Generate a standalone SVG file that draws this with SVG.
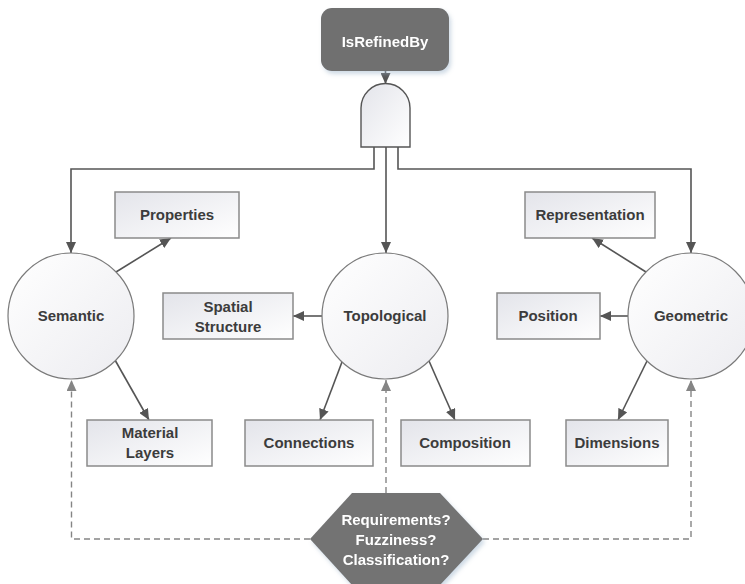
<svg xmlns="http://www.w3.org/2000/svg" width="745" height="584" viewBox="0 0 745 584">
  <defs>
    <linearGradient id="boxFill" x1="0" y1="0" x2="1" y2="1">
      <stop offset="0" stop-color="#e3e4ea"/>
      <stop offset="1" stop-color="#ffffff"/>
    </linearGradient>
    <linearGradient id="circleFill" x1="0" y1="0" x2="1" y2="1">
      <stop offset="0" stop-color="#ffffff"/>
      <stop offset="1" stop-color="#ececf0"/>
    </linearGradient>
    <filter id="softShadow" x="-20%" y="-20%" width="150%" height="150%">
      <feGaussianBlur in="SourceAlpha" stdDeviation="2"/>
      <feOffset dx="2" dy="3" result="blur"/>
      <feFlood flood-color="#9fb6cc" flood-opacity="0.5"/>
      <feComposite in2="blur" operator="in"/>
      <feMerge>
        <feMergeNode/>
        <feMergeNode in="SourceGraphic"/>
      </feMerge>
    </filter>
    <marker id="arrow" markerUnits="userSpaceOnUse" markerWidth="12" markerHeight="10" refX="11" refY="5" orient="auto">
      <path d="M0,0 L11,5 L0,10 z" fill="#555555"/>
    </marker>
    <marker id="arrowLight" markerUnits="userSpaceOnUse" markerWidth="12" markerHeight="10" refX="11" refY="5" orient="auto">
      <path d="M0,0 L11,5 L0,10 z" fill="#858585"/>
    </marker>
  </defs>
  <style>
    .box { fill: url(#boxFill); stroke: #8a8a8a; stroke-width: 1.5; }
    .circle { fill: url(#circleFill); stroke: #7a7a7a; stroke-width: 1.2; }
    .label { font-family: "Liberation Sans", Arial, sans-serif; font-weight: bold; font-size: 15px; fill: #3c3c3c; text-anchor: middle; }
    .light { fill: #ffffff; }
    .link { fill: none; stroke: #555555; stroke-width: 1.6; marker-end: url(#arrow); }
    .dashedArrow { fill: none; stroke: #858585; stroke-width: 1.4; stroke-dasharray: 6 4; marker-end: url(#arrowLight); }
    .dark { fill: #6f6f6f; }
  </style>

  <rect width="745" height="584" fill="#ffffff"/>

  <!-- connectors -->
  <g id="connectors">
    <!-- IsRefinedBy into the AND gate -->
    <line class="link" x1="385.5" y1="71" x2="385.5" y2="84"/>
    <!-- gate outputs to the three aspects -->
    <path class="link" d="M374,147 V169 H71 V253"/>
    <path class="link" d="M386,147 V253"/>
    <path class="link" d="M398,147 V169 H691 V253"/>
    <!-- Semantic -->
    <line class="link" x1="116" y1="272" x2="171" y2="238"/>
    <line class="link" x1="115" y1="360" x2="149" y2="420"/>
    <!-- Topological -->
    <line class="link" x1="323" y1="316" x2="293" y2="316"/>
    <line class="link" x1="342" y1="362" x2="320" y2="420"/>
    <line class="link" x1="429" y1="361" x2="455" y2="420"/>
    <!-- Geometric -->
    <line class="link" x1="646" y1="272" x2="592" y2="238"/>
    <line class="link" x1="628" y1="316" x2="600" y2="316"/>
    <line class="link" x1="647" y1="361" x2="618" y2="420"/>
    <!-- open questions feeding back -->
    <path class="dashedArrow" d="M310,539 H71.5 V380"/>
    <path class="dashedArrow" d="M386,493 V380"/>
    <path class="dashedArrow" d="M483,539 H691 V380"/>
  </g>

  <g id="isRefinedBy" filter="url(#softShadow)">
    <rect class="dark" x="321" y="8" width="128" height="63" rx="11"/>
    <text class="label light" x="385" y="47">IsRefinedBy</text>
  </g>

  <g id="andGate">
    <path d="M361,147 V108 A24.5,24.5 0 0 1 410,108 V147 Z" fill="url(#boxFill)" stroke="#555555" stroke-width="1.4"/>
  </g>

  <g id="semantic">
    <circle class="circle" cx="71" cy="316" r="63"/>
    <text class="label" x="71" y="321">Semantic</text>
  </g>
  <g id="topological">
    <circle class="circle" cx="385" cy="316" r="63"/>
    <text class="label" x="385" y="321">Topological</text>
  </g>
  <g id="geometric">
    <circle class="circle" cx="691" cy="316" r="63"/>
    <text class="label" x="691" y="321">Geometric</text>
  </g>

  <g id="properties">
    <rect class="box" x="115" y="192" width="124" height="46"/>
    <text class="label" x="177" y="220">Properties</text>
  </g>
  <g id="spatialStructure">
    <rect class="box" x="163" y="293" width="130" height="46"/>
    <text class="label" x="228" y="312">Spatial</text>
    <text class="label" x="228" y="332">Structure</text>
  </g>
  <g id="materialLayers">
    <rect class="box" x="87" y="420" width="125" height="46"/>
    <text class="label" x="150" y="438">Material</text>
    <text class="label" x="150" y="458">Layers</text>
  </g>
  <g id="connections">
    <rect class="box" x="245" y="420" width="128" height="46"/>
    <text class="label" x="309" y="448">Connections</text>
  </g>
  <g id="composition">
    <rect class="box" x="401" y="420" width="129" height="46"/>
    <text class="label" x="465" y="448">Composition</text>
  </g>
  <g id="representation">
    <rect class="box" x="525" y="192" width="130" height="46"/>
    <text class="label" x="590" y="220">Representation</text>
  </g>
  <g id="position">
    <rect class="box" x="497" y="293" width="103" height="46"/>
    <text class="label" x="548" y="321">Position</text>
  </g>
  <g id="dimensions">
    <rect class="box" x="566" y="420" width="102" height="46"/>
    <text class="label" x="617" y="448">Dimensions</text>
  </g>

  <g id="questions" filter="url(#softShadow)">
    <polygon points="352,493 440,493 483,539 440,585 352,585 310,539" fill="#737373"/>
    <text class="label light" x="396" y="525">Requirements?</text>
    <text class="label light" x="396" y="545">Fuzziness?</text>
    <text class="label light" x="396" y="565">Classification?</text>
  </g>
</svg>
